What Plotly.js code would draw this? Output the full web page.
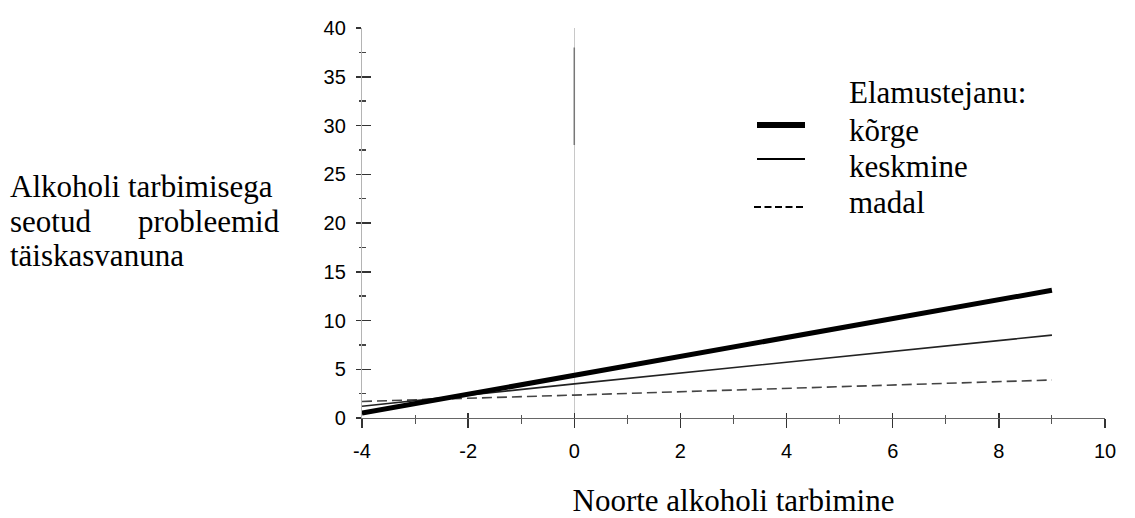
<!DOCTYPE html>
<html>
<head>
<meta charset="utf-8">
<script src="https://cdn.plot.ly/plotly-3.0.1.min.js"></script>
<style>html,body{margin:0;padding:0;background:#fff;}#chart{width:1135px;height:518px;}</style>
</head>
<body>
<div id="chart"></div>
<script>
// Data
var xValues = [-4, 0, 9];
var korge = [0.5, 4.4, 13.1];
var keskmine = [1.2, 3.5, 8.5];
var madal = [1.7, 2.35, 3.9];
var seriesNames = ['kõrge', 'keskmine', 'madal'];
var legendTitle = 'Elamustejanu:';
var xTitle = 'Noorte alkoholi tarbimine';
var yTitleLines = ['Alkoholi tarbimisega', 'seotud', 'probleemid', 'täiskasvanuna'];
var xTicks = [-4, -2, 0, 2, 4, 6, 8, 10];
var yTicks = [0, 5, 10, 15, 20, 25, 30, 35, 40];
var artifactX = [0, 0];
var artifactY = [28, 38];

var serif = 'Liberation Serif, Times New Roman, serif';
var sans = 'Liberation Sans, Arial, sans-serif';

var traces = [
  {x: artifactX, y: artifactY, mode: 'lines', line: {color: '#777', width: 1.5}, showlegend: false, hoverinfo: 'skip'},
  {x: xValues, y: madal, name: seriesNames[2], mode: 'lines', line: {color: '#444', width: 1.6, dash: '10px,5px'}, showlegend: false},
  {x: xValues, y: keskmine, name: seriesNames[1], mode: 'lines', line: {color: '#222', width: 1.6}, showlegend: false},
  {x: xValues, y: korge, name: seriesNames[0], mode: 'lines', line: {color: '#000', width: 5}, showlegend: false}
];

var L = 362, R = 1105, T = 28, B = 418;
function px(x){ return (x - L) / (R - L); }
function py(y){ return (B - y) / (B - T); }

var annotations = [
  {text: yTitleLines[0], x: px(8), y: py(186), xanchor: 'left'},
  {text: yTitleLines[1], x: px(8), y: py(221), xanchor: 'left'},
  {text: yTitleLines[2], x: px(282), y: py(221), xanchor: 'right'},
  {text: yTitleLines[3], x: px(8), y: py(256), xanchor: 'left'},
  {text: legendTitle, x: px(847), y: py(93), xanchor: 'left'},
  {text: seriesNames[0], x: px(847), y: py(130), xanchor: 'left'},
  {text: seriesNames[1], x: px(847), y: py(167), xanchor: 'left'},
  {text: seriesNames[2], x: px(847), y: py(203), xanchor: 'left'}
].map(function(a){
  return Object.assign({xref: 'paper', yref: 'paper', yanchor: 'middle', showarrow: false,
    font: {family: serif, size: 31, color: '#000'}}, a);
});

var shapes = [
  {type: 'line', xref: 'paper', yref: 'paper', x0: px(757), x1: px(805), y0: py(125), y1: py(125), line: {color: '#000', width: 6}},
  {type: 'line', xref: 'paper', yref: 'paper', x0: px(757), x1: px(805), y0: py(159), y1: py(159), line: {color: '#000', width: 2}},
  {type: 'line', xref: 'paper', yref: 'paper', x0: px(754), x1: px(806), y0: py(207), y1: py(207), line: {color: '#000', width: 2, dash: '7px,3.5px'}}
];

var layout = {
  width: 1135, height: 518,
  margin: {l: L, r: 1135 - R, t: T, b: 518 - B, pad: 0},
  paper_bgcolor: '#fff', plot_bgcolor: '#fff',
  showlegend: false,
  xaxis: {
    range: [-4, 10], tickvals: xTicks, ticktext: xTicks.map(String),
    showgrid: false, zeroline: true, zerolinecolor: '#c8c8c8', zerolinewidth: 1,
    showline: true, linecolor: '#666', linewidth: 1.3,
    ticks: 'outside', ticklen: 9, tickwidth: 1.3, tickcolor: '#333',
    minor: {dtick: 1, ticks: 'outside', ticklen: 5, tickwidth: 1, tickcolor: '#555', showgrid: false},
    ticklabelstandoff: 6,
    tickfont: {family: sans, size: 20, color: '#000'},
    title: {text: xTitle, font: {family: serif, size: 31, color: '#000'}, standoff: 30},
    fixedrange: true
  },
  yaxis: {
    range: [0, 40], tickvals: yTicks, ticktext: yTicks.map(String),
    showgrid: false, zeroline: false,
    showline: true, linecolor: '#b4b4b4', linewidth: 1.2,
    ticks: 'outside', ticklen: 5, tickwidth: 1.5, tickcolor: '#333',
    minor: {dtick: 2.5, ticks: 'outside', ticklen: 2, tickwidth: 1.3, tickcolor: '#444', showgrid: false},
    ticklabelstandoff: 6,
    tickfont: {family: sans, size: 20, color: '#000'},
    fixedrange: true
  },
  xaxis2: {
    overlaying: 'x', range: [-4, 10], tickvals: xTicks, showticklabels: false,
    showgrid: false, zeroline: false, showline: false,
    ticks: 'inside', ticklen: 5, tickwidth: 1.3, tickcolor: '#333',
    minor: {dtick: 1, ticks: 'inside', ticklen: 3, tickwidth: 1, tickcolor: '#555', showgrid: false}
  },
  yaxis2: {
    overlaying: 'y', range: [0, 40], tickvals: yTicks, showticklabels: false,
    showgrid: false, zeroline: false, showline: false,
    ticks: 'inside', ticklen: 9, tickwidth: 1.5, tickcolor: '#333',
    minor: {dtick: 2.5, ticks: 'inside', ticklen: 4, tickwidth: 1.3, tickcolor: '#444', showgrid: false}
  },
  annotations: annotations,
  shapes: shapes
};

// invisible helper trace so the overlay tick axes are drawn
traces.push({x: [-4], y: [0], xaxis: 'x2', yaxis: 'y2', mode: 'markers', marker: {opacity: 0}, showlegend: false, hoverinfo: 'skip'});

Plotly.newPlot('chart', traces, layout, {staticPlot: true, displayModeBar: false});
</script>
</body>
</html>
